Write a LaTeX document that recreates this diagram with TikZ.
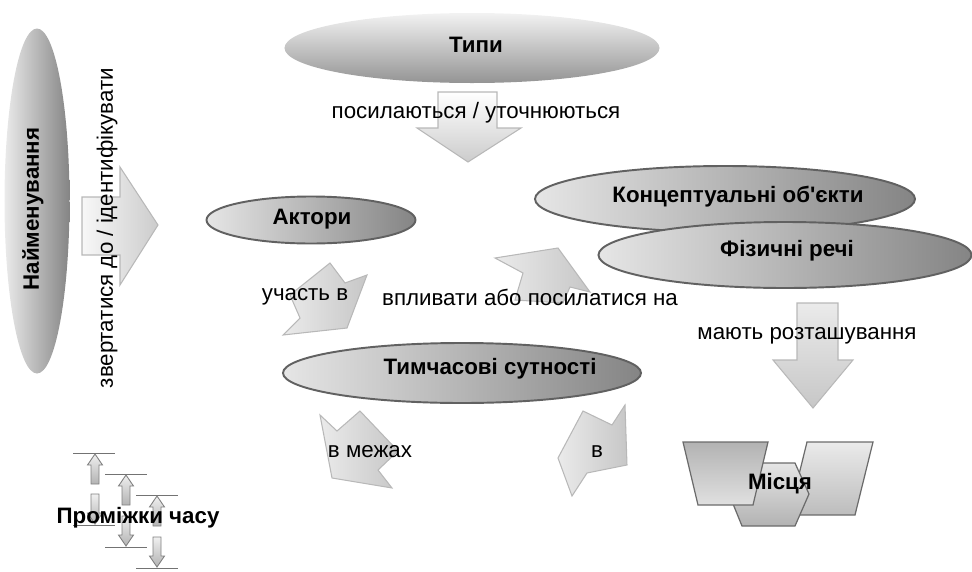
\documentclass[tikz,border=0pt]{standalone}
\usepackage{fontspec}
\setmainfont{Liberation Sans}
\usetikzlibrary{shapes.geometric}
\def\tickarrow[#1](#2,#3)(#4)% Syntax: [draw options] (x of tip, y of tip) (1 = points up, -1 = points down)
{ \draw[#1] ({#2-4},{#3+(#4)*11}) -- ({#2-7.5},{#3+(#4)*11}) -- (#2,#3) -- ({#2+7.5},{#3+(#4)*11}) -- ({#2+4},{#3+(#4)*11}) -- ({#2+4},{#3+(#4)*30}) -- ({#2-4},{#3+(#4)*30}) -- cycle; }
\def\apos{\XeTeXglyph\XeTeXcharglyph"27 }	% straight apostrophe

\begin{document}
\begin{tikzpicture}[x=0.2mm,y=-0.2mm,font=\fontsize{12.7}{15}\selectfont,
	ell/.style={ellipse,inner sep=0pt,draw=black!62,line width=1.1pt,left color=black!10,right color=black!48},
	soft/.style={ellipse,inner sep=0pt},
	blk/.style={draw=black!28,line width=0.6pt,left color=black!8,right color=black!22},
	place/.style={draw=black!58,line width=0.7pt},
	tick/.style={draw=black!50,line width=0.5pt,top color=black!6,bottom color=black!30},
	bold/.style={font=\fontsize{12.7}{15}\selectfont\bfseries}]
	\useasboundingbox (0,0) rectangle (972,572);

	%BLOCK ARROWS
	\draw[blk,left color=black!3,right color=black!20] (82,197) -- (120,197) -- (120,167) -- (158,225) -- (120,285) -- (120,255) -- (82,255) -- cycle;	%naming -> actors
	\draw[blk,top color=white,bottom color=black!20] (438,92) -- (497,92) -- (497,128) -- (521,128) -- (468,162) -- (417,128) -- (438,128) -- cycle;	%types -> down
	\draw[blk] (330,263) -- (345,283) -- (367,275) -- (347,328) -- (283,335) -- (300,318) -- (290,295) -- cycle;	%actors -> periods
	\draw[blk] (495,258) -- (523,273) -- (515,300) -- (563,303) -- (570,287) -- (590,292) -- (558,248) -- cycle;	%periods -> things
	\draw[blk] (320,415) -- (337,431) -- (360,411) -- (398,451) -- (378,470) -- (392,488) -- (332,478) -- cycle;	%periods -> intervals
	\draw[blk] (583,411) -- (612,425) -- (625,405) -- (627,465) -- (587,473) -- (572,496) -- (558,458) -- cycle;	%periods -> places
	\draw[blk,top color=black!8,bottom color=black!22] (797,303) -- (838,303) -- (838,360) -- (853,360) -- (813,408) -- (773,360) -- (797,360) -- cycle;	%things -> places

	%ELLIPSES
	\node[soft,minimum width=13mm,minimum height=69mm,left color=black!8,right color=black!48] (naming) at (37,201) {};
	\node[soft,minimum width=75mm,minimum height=14mm,top color=black!5,bottom color=black!42] (types) at (472,48) {};
	\node[ell,minimum width=41.8mm,minimum height=9.4mm] (actors) at (311,220) {};
	\node[ell,minimum width=76mm,minimum height=13.2mm] (concepts) at (725,199) {};
	\node[ell,minimum width=74.6mm,minimum height=13.2mm] (things) at (785,255) {};
	\node[ell,minimum width=71.6mm,minimum height=12mm] (periods) at (462,373) {};

	%PLACES
	\draw[place,top color=black!8,bottom color=black!26] (807,442) -- (873,442) -- (855,515) -- (789,515) -- cycle;	%parallelogram
	\draw[place,top color=black!10,bottom color=black!30] (742,463) -- (795,463) -- (809,494) -- (795,526) -- (742,526) -- (729,494) -- cycle;	%hexagon
	\draw[place,top color=black!30,bottom color=black!12] (683,442) -- (768,442) -- (753,505) -- (698,505) -- cycle;	%trapezoid

	%TIME INTERVALS
	\draw[black!55] (73,453) -- (115,453);
	\draw[black!55] (105,474) -- (147,474);
	\draw[black!55] (136,495) -- (178,495);
	\draw[black!55] (73,525) -- (115,525);
	\draw[black!55] (105,547) -- (147,547);
	\draw[black!55] (136,568) -- (178,568);
	\tickarrow[tick](95,454)(1)
	\tickarrow[tick](126,475)(1)
	\tickarrow[tick](157,496)(1)
	\tickarrow[tick](95,524)(-1)
	\tickarrow[tick](126,546)(-1)
	\tickarrow[tick](157,567)(-1)

	%LABELS
	\node[bold] (namingText) at (33,209) {\rotatebox{90}{Найменування}};
	\node (namingArrowText) at (107,228) {\rotatebox{90}{звертатися до / ідентифікувати}};
	\node[bold] (typesText) at (476,45) {Типи};
	\node (typesArrowText) at (476,113) {посилаються / уточнюються};
	\node[bold] (actorsText) at (312,219) {Актори};
	\node[bold] (conceptsText) at (738,197) {Концептуальні об\apos єкти};
	\node[bold] (thingsText) at (787,251) {Фізичні речі};
	\node (partText) at (305,297) {участь в};
	\node (influenceText) at (530,297) {впливати або посилатися на};
	\node[bold] (periodsText) at (490,369) {Тимчасові сутності};
	\node (withinText) at (370,452) {в межах};
	\node (inText) at (597,452) {в};
	\node (locationText) at (807,336) {мають розташування};
	\node[bold] (placesText) at (780,484) {Місця};
	\node[bold] (intervalsText) at (138,518) {Проміжки часу};
\end{tikzpicture}
\end{document}
